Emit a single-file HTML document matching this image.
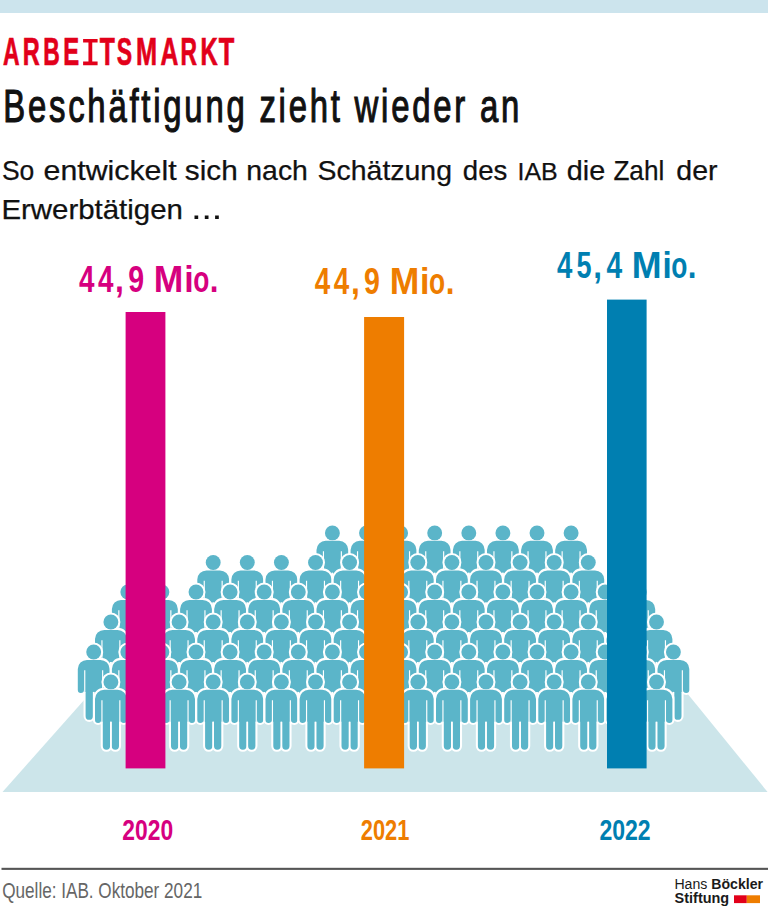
<!DOCTYPE html>
<html lang="de"><head><meta charset="utf-8"><title>Arbeitsmarkt</title>
<style>
html,body{margin:0;padding:0;background:#fff;}
body{width:768px;height:917px;overflow:hidden;font-family:"Liberation Sans",sans-serif;}
svg{display:block;}
text{font-family:"Liberation Sans",sans-serif;}
</style></head><body>
<svg width="768" height="917" viewBox="0 0 768 917">
<defs>
<path id="b" d="M-6.7 8 H6.7 A9.2 9.2 0 0 1 15.9 17.2 V38.1 A3.05 3.05 0 0 1 9.8 38.1 V40 H8.1 V64.3 A3.65 3.65 0 0 1 0.8 64.3 V40 H-0.8 V64.3 A3.65 3.65 0 0 1 -8.1 64.3 V40 H-9.8 V38.1 A3.05 3.05 0 0 1 -15.9 38.1 V17.2 A9.2 9.2 0 0 1 -6.7 8 Z"/>
<g id="p">
  <g fill="#fff" stroke="#fff" stroke-width="4.1" stroke-linejoin="round">
    <circle cx="0" cy="0.1" r="7.45"/>
    <use href="#b"/>
  </g>
  <g fill="#5bb5c9">
    <circle cx="0" cy="0.1" r="7.45"/>
    <use href="#b"/>
  </g>
  <path d="M-8.95 18.4 V40.5 M8.95 18.4 V40.5" stroke="#fff" stroke-width="1.15" fill="none"/>
  <path d="M0 40 V66" stroke="#fff" stroke-width="1.5" fill="none"/>
</g>
</defs>
<rect x="0" y="0" width="768" height="13" fill="#cce4ed"/>
<text transform="translate(3.50,65.2) scale(0.605,1)" x="-0.76" font-size="37.9" font-weight="700" fill="#e2001a" stroke="#e2001a" stroke-width="0.6" vector-effect="non-scaling-stroke">A</text>
<text transform="translate(24.20,65.2) scale(0.621,1)" x="-2.27" font-size="37.9" font-weight="700" fill="#e2001a" stroke="#e2001a" stroke-width="0.6" vector-effect="non-scaling-stroke">R</text>
<text transform="translate(44.60,65.2) scale(0.604,1)" x="-2.27" font-size="37.9" font-weight="700" fill="#e2001a" stroke="#e2001a" stroke-width="0.6" vector-effect="non-scaling-stroke">B</text>
<text transform="translate(64.80,65.2) scale(0.630,1)" x="-2.27" font-size="37.9" font-weight="700" fill="#e2001a" stroke="#e2001a" stroke-width="0.6" vector-effect="non-scaling-stroke">E</text>
<path d="M83.10 38.90h14.50v3.6h-5.35v19.10h5.35v3.6h-14.50v-3.6h5.35v-19.10h-5.35z" fill="#e2001a"/>
<text transform="translate(100.10,65.2) scale(0.651,1)" x="-0.38" font-size="37.9" font-weight="700" fill="#e2001a" stroke="#e2001a" stroke-width="0.6" vector-effect="non-scaling-stroke">T</text>
<text transform="translate(117.30,65.2) scale(0.606,1)" x="-0.76" font-size="37.9" font-weight="700" fill="#e2001a" stroke="#e2001a" stroke-width="0.6" vector-effect="non-scaling-stroke">S</text>
<text transform="translate(137.40,65.2) scale(0.669,1)" x="-2.27" font-size="37.9" font-weight="700" fill="#e2001a" stroke="#e2001a" stroke-width="0.6" vector-effect="non-scaling-stroke">M</text>
<text transform="translate(160.90,65.2) scale(0.652,1)" x="-0.76" font-size="37.9" font-weight="700" fill="#e2001a" stroke="#e2001a" stroke-width="0.6" vector-effect="non-scaling-stroke">A</text>
<text transform="translate(181.90,65.2) scale(0.603,1)" x="-2.27" font-size="37.9" font-weight="700" fill="#e2001a" stroke="#e2001a" stroke-width="0.6" vector-effect="non-scaling-stroke">R</text>
<text transform="translate(201.80,65.2) scale(0.628,1)" x="-2.27" font-size="37.9" font-weight="700" fill="#e2001a" stroke="#e2001a" stroke-width="0.6" vector-effect="non-scaling-stroke">K</text>
<text transform="translate(219.00,65.2) scale(0.671,1)" x="-0.38" font-size="37.9" font-weight="700" fill="#e2001a" stroke="#e2001a" stroke-width="0.6" vector-effect="non-scaling-stroke">T</text>
<text transform="translate(3.2,121.5) scale(0.71,1)" font-size="46.3" fill="#111" stroke="#111" stroke-width="1" vector-effect="non-scaling-stroke" textLength="726.8" lengthAdjust="spacing">Beschäftigung zieht wieder an</text>
<text y="179.8" font-size="27.6" fill="#111" stroke="#111" stroke-width="0.25"><tspan x="1.9" textLength="32.4" lengthAdjust="spacingAndGlyphs">So</tspan><tspan x="43.6" textLength="133.0" lengthAdjust="spacingAndGlyphs">entwickelt</tspan><tspan x="184.8" textLength="52.9" lengthAdjust="spacingAndGlyphs">sich</tspan><tspan x="246.3" textLength="61.6" lengthAdjust="spacingAndGlyphs">nach</tspan><tspan x="317.6" textLength="134.4" lengthAdjust="spacingAndGlyphs">Schätzung</tspan><tspan x="462.8" textLength="44.5" lengthAdjust="spacingAndGlyphs">des</tspan><tspan x="517.5" textLength="40.2" lengthAdjust="spacingAndGlyphs" font-size="24">IAB</tspan><tspan x="566.8" textLength="38.4" lengthAdjust="spacingAndGlyphs">die</tspan><tspan x="613.4" textLength="50.9" lengthAdjust="spacingAndGlyphs">Zahl</tspan><tspan x="676.3" textLength="41.2" lengthAdjust="spacingAndGlyphs">der</tspan></text>
<text y="218.8" font-size="27.6" fill="#111" stroke="#111" stroke-width="0.25"><tspan x="1.4" textLength="181.5" lengthAdjust="spacingAndGlyphs">Erwerbtätigen</tspan></text>
<path d="M194.5 215.4h3.7v3.7h-3.7zM204.8 215.4h3.7v3.7h-3.7zM215.1 215.4h3.7v3.7h-3.7z" fill="#111"/>

<text transform="translate(79.20,291.6) scale(0.742,1)" x="-0.38" font-size="37.5" font-weight="700" fill="#d6007f">4</text>
<text transform="translate(98.20,291.6) scale(0.742,1)" x="-0.38" font-size="37.5" font-weight="700" fill="#d6007f">4</text>
<text transform="translate(117.00,291.6) scale(0.850,1)" x="-2.25" font-size="37.5" font-weight="700" fill="#d6007f">,</text>
<text transform="translate(129.00,291.6) scale(0.762,1)" x="-1.12" font-size="37.5" font-weight="700" fill="#d6007f">9</text>
<text transform="translate(155.90,291.6) scale(0.946,1)" x="-2.25" font-size="37.5" font-weight="700" fill="#d6007f">M</text>
<text transform="translate(186.20,291.6) scale(0.907,1)" x="-2.25" font-size="37.5" font-weight="700" fill="#d6007f">i</text>
<text transform="translate(194.00,291.6) scale(0.703,1)" x="-1.12" font-size="37.5" font-weight="700" fill="#d6007f">o</text>
<text transform="translate(211.70,291.6) scale(0.836,1)" x="-2.25" font-size="37.5" font-weight="700" fill="#d6007f">.</text>
<text transform="translate(315.10,293.6) scale(0.742,1)" x="-0.38" font-size="37.5" font-weight="700" fill="#ee7d00">4</text>
<text transform="translate(334.10,293.6) scale(0.742,1)" x="-0.38" font-size="37.5" font-weight="700" fill="#ee7d00">4</text>
<text transform="translate(352.90,293.6) scale(0.850,1)" x="-2.25" font-size="37.5" font-weight="700" fill="#ee7d00">,</text>
<text transform="translate(364.90,293.6) scale(0.762,1)" x="-1.12" font-size="37.5" font-weight="700" fill="#ee7d00">9</text>
<text transform="translate(391.80,293.6) scale(0.946,1)" x="-2.25" font-size="37.5" font-weight="700" fill="#ee7d00">M</text>
<text transform="translate(422.10,293.6) scale(0.907,1)" x="-2.25" font-size="37.5" font-weight="700" fill="#ee7d00">i</text>
<text transform="translate(429.90,293.6) scale(0.703,1)" x="-1.12" font-size="37.5" font-weight="700" fill="#ee7d00">o</text>
<text transform="translate(447.60,293.6) scale(0.836,1)" x="-2.25" font-size="37.5" font-weight="700" fill="#ee7d00">.</text>
<text transform="translate(557.40,278.2) scale(0.737,1)" x="-0.38" font-size="37.5" font-weight="700" fill="#007fb1">4</text>
<text transform="translate(577.20,278.2) scale(0.720,1)" x="-1.12" font-size="37.5" font-weight="700" fill="#007fb1">5</text>
<text transform="translate(595.10,278.2) scale(0.833,1)" x="-2.25" font-size="37.5" font-weight="700" fill="#007fb1">,</text>
<text transform="translate(606.90,278.2) scale(0.752,1)" x="-0.38" font-size="37.5" font-weight="700" fill="#007fb1">4</text>
<text transform="translate(633.90,278.2) scale(0.954,1)" x="-2.25" font-size="37.5" font-weight="700" fill="#007fb1">M</text>
<text transform="translate(664.40,278.2) scale(0.889,1)" x="-2.25" font-size="37.5" font-weight="700" fill="#007fb1">i</text>
<text transform="translate(672.00,278.2) scale(0.703,1)" x="-1.12" font-size="37.5" font-weight="700" fill="#007fb1">o</text>
<text transform="translate(689.70,278.2) scale(0.836,1)" x="-2.25" font-size="37.5" font-weight="700" fill="#007fb1">.</text>

<polygon points="93,690 684.5,690 767.6,792 2.5,792" fill="#cce5ea"/>
<use href="#p" x="332.4" y="532.8"/>
<use href="#p" x="366.5" y="532.8"/>
<use href="#p" x="400.6" y="532.8"/>
<use href="#p" x="434.7" y="532.8"/>
<use href="#p" x="468.8" y="532.8"/>
<use href="#p" x="502.9" y="532.8"/>
<use href="#p" x="537.0" y="532.8"/>
<use href="#p" x="571.1" y="532.8"/>
<use href="#p" x="213.2" y="562.4"/>
<use href="#p" x="247.3" y="562.4"/>
<use href="#p" x="281.4" y="562.4"/>
<use href="#p" x="315.5" y="562.4"/>
<use href="#p" x="349.6" y="562.4"/>
<use href="#p" x="383.7" y="562.4"/>
<use href="#p" x="417.8" y="562.4"/>
<use href="#p" x="451.9" y="562.4"/>
<use href="#p" x="486.0" y="562.4"/>
<use href="#p" x="520.1" y="562.4"/>
<use href="#p" x="554.2" y="562.4"/>
<use href="#p" x="588.3" y="562.4"/>
<use href="#p" x="127.8" y="591.9"/>
<use href="#p" x="161.9" y="591.9"/>
<use href="#p" x="196.0" y="591.9"/>
<use href="#p" x="230.1" y="591.9"/>
<use href="#p" x="264.2" y="591.9"/>
<use href="#p" x="298.3" y="591.9"/>
<use href="#p" x="332.4" y="591.9"/>
<use href="#p" x="366.5" y="591.9"/>
<use href="#p" x="400.6" y="591.9"/>
<use href="#p" x="434.7" y="591.9"/>
<use href="#p" x="468.8" y="591.9"/>
<use href="#p" x="502.9" y="591.9"/>
<use href="#p" x="537.0" y="591.9"/>
<use href="#p" x="571.1" y="591.9"/>
<use href="#p" x="605.2" y="591.9"/>
<use href="#p" x="639.3" y="591.9"/>
<use href="#p" x="110.9" y="621.9"/>
<use href="#p" x="145.0" y="621.9"/>
<use href="#p" x="179.1" y="621.9"/>
<use href="#p" x="213.2" y="621.9"/>
<use href="#p" x="247.3" y="621.9"/>
<use href="#p" x="281.4" y="621.9"/>
<use href="#p" x="315.5" y="621.9"/>
<use href="#p" x="349.6" y="621.9"/>
<use href="#p" x="383.7" y="621.9"/>
<use href="#p" x="417.8" y="621.9"/>
<use href="#p" x="451.9" y="621.9"/>
<use href="#p" x="486.0" y="621.9"/>
<use href="#p" x="520.1" y="621.9"/>
<use href="#p" x="554.2" y="621.9"/>
<use href="#p" x="588.3" y="621.9"/>
<use href="#p" x="622.4" y="621.9"/>
<use href="#p" x="656.5" y="621.9"/>
<use href="#p" x="93.7" y="651.9"/>
<use href="#p" x="127.8" y="651.9"/>
<use href="#p" x="161.9" y="651.9"/>
<use href="#p" x="196.0" y="651.9"/>
<use href="#p" x="230.1" y="651.9"/>
<use href="#p" x="264.2" y="651.9"/>
<use href="#p" x="298.3" y="651.9"/>
<use href="#p" x="332.4" y="651.9"/>
<use href="#p" x="366.5" y="651.9"/>
<use href="#p" x="400.6" y="651.9"/>
<use href="#p" x="434.7" y="651.9"/>
<use href="#p" x="468.8" y="651.9"/>
<use href="#p" x="502.9" y="651.9"/>
<use href="#p" x="537.0" y="651.9"/>
<use href="#p" x="571.1" y="651.9"/>
<use href="#p" x="605.2" y="651.9"/>
<use href="#p" x="639.3" y="651.9"/>
<use href="#p" x="673.4" y="651.9"/>
<use href="#p" x="110.9" y="681.8"/>
<use href="#p" x="145.0" y="681.8"/>
<use href="#p" x="179.1" y="681.8"/>
<use href="#p" x="213.2" y="681.8"/>
<use href="#p" x="247.3" y="681.8"/>
<use href="#p" x="281.4" y="681.8"/>
<use href="#p" x="315.5" y="681.8"/>
<use href="#p" x="349.6" y="681.8"/>
<use href="#p" x="383.7" y="681.8"/>
<use href="#p" x="417.8" y="681.8"/>
<use href="#p" x="451.9" y="681.8"/>
<use href="#p" x="486.0" y="681.8"/>
<use href="#p" x="520.1" y="681.8"/>
<use href="#p" x="554.2" y="681.8"/>
<use href="#p" x="588.3" y="681.8"/>
<use href="#p" x="622.4" y="681.8"/>
<use href="#p" x="656.5" y="681.8"/>
<rect x="125.6" y="312" width="39.8" height="456.4" fill="#d6007f"/>
<rect x="364.1" y="317" width="40" height="451.4" fill="#ee7d00"/>
<rect x="607" y="299.6" width="39.6" height="468.8" fill="#007fb1"/>

<text x="122.3" y="840.3" font-size="29.4" font-weight="700" fill="#d6007f" textLength="50.8" lengthAdjust="spacingAndGlyphs">2020</text>
<text x="360.8" y="840.3" font-size="29.4" font-weight="700" fill="#ee7d00" textLength="48.6" lengthAdjust="spacingAndGlyphs">2021</text>
<text x="599.4" y="840.3" font-size="29.4" font-weight="700" fill="#007fb1" textLength="51.3" lengthAdjust="spacingAndGlyphs">2022</text>

<rect x="1.5" y="867.8" width="766.5" height="2.1" fill="#555"/>
<text x="2.2" y="897.6" font-size="22.4" fill="#666" textLength="200" lengthAdjust="spacingAndGlyphs">Quelle: IAB. Oktober 2021</text>
<text x="674.4" y="888.6" font-size="14" fill="#1a1a1a" textLength="88.6" lengthAdjust="spacingAndGlyphs">Hans <tspan font-weight="700">Böckler</tspan></text>
<text x="674.6" y="903.2" font-size="14" font-weight="700" fill="#1a1a1a" textLength="54.6" lengthAdjust="spacingAndGlyphs">Stiftung</text>
<rect x="734" y="895.3" width="12.8" height="7.8" fill="#e2001a"/>
<rect x="746.8" y="895.3" width="13.2" height="7.8" fill="#ee7d00"/>
</svg>
</body></html>
